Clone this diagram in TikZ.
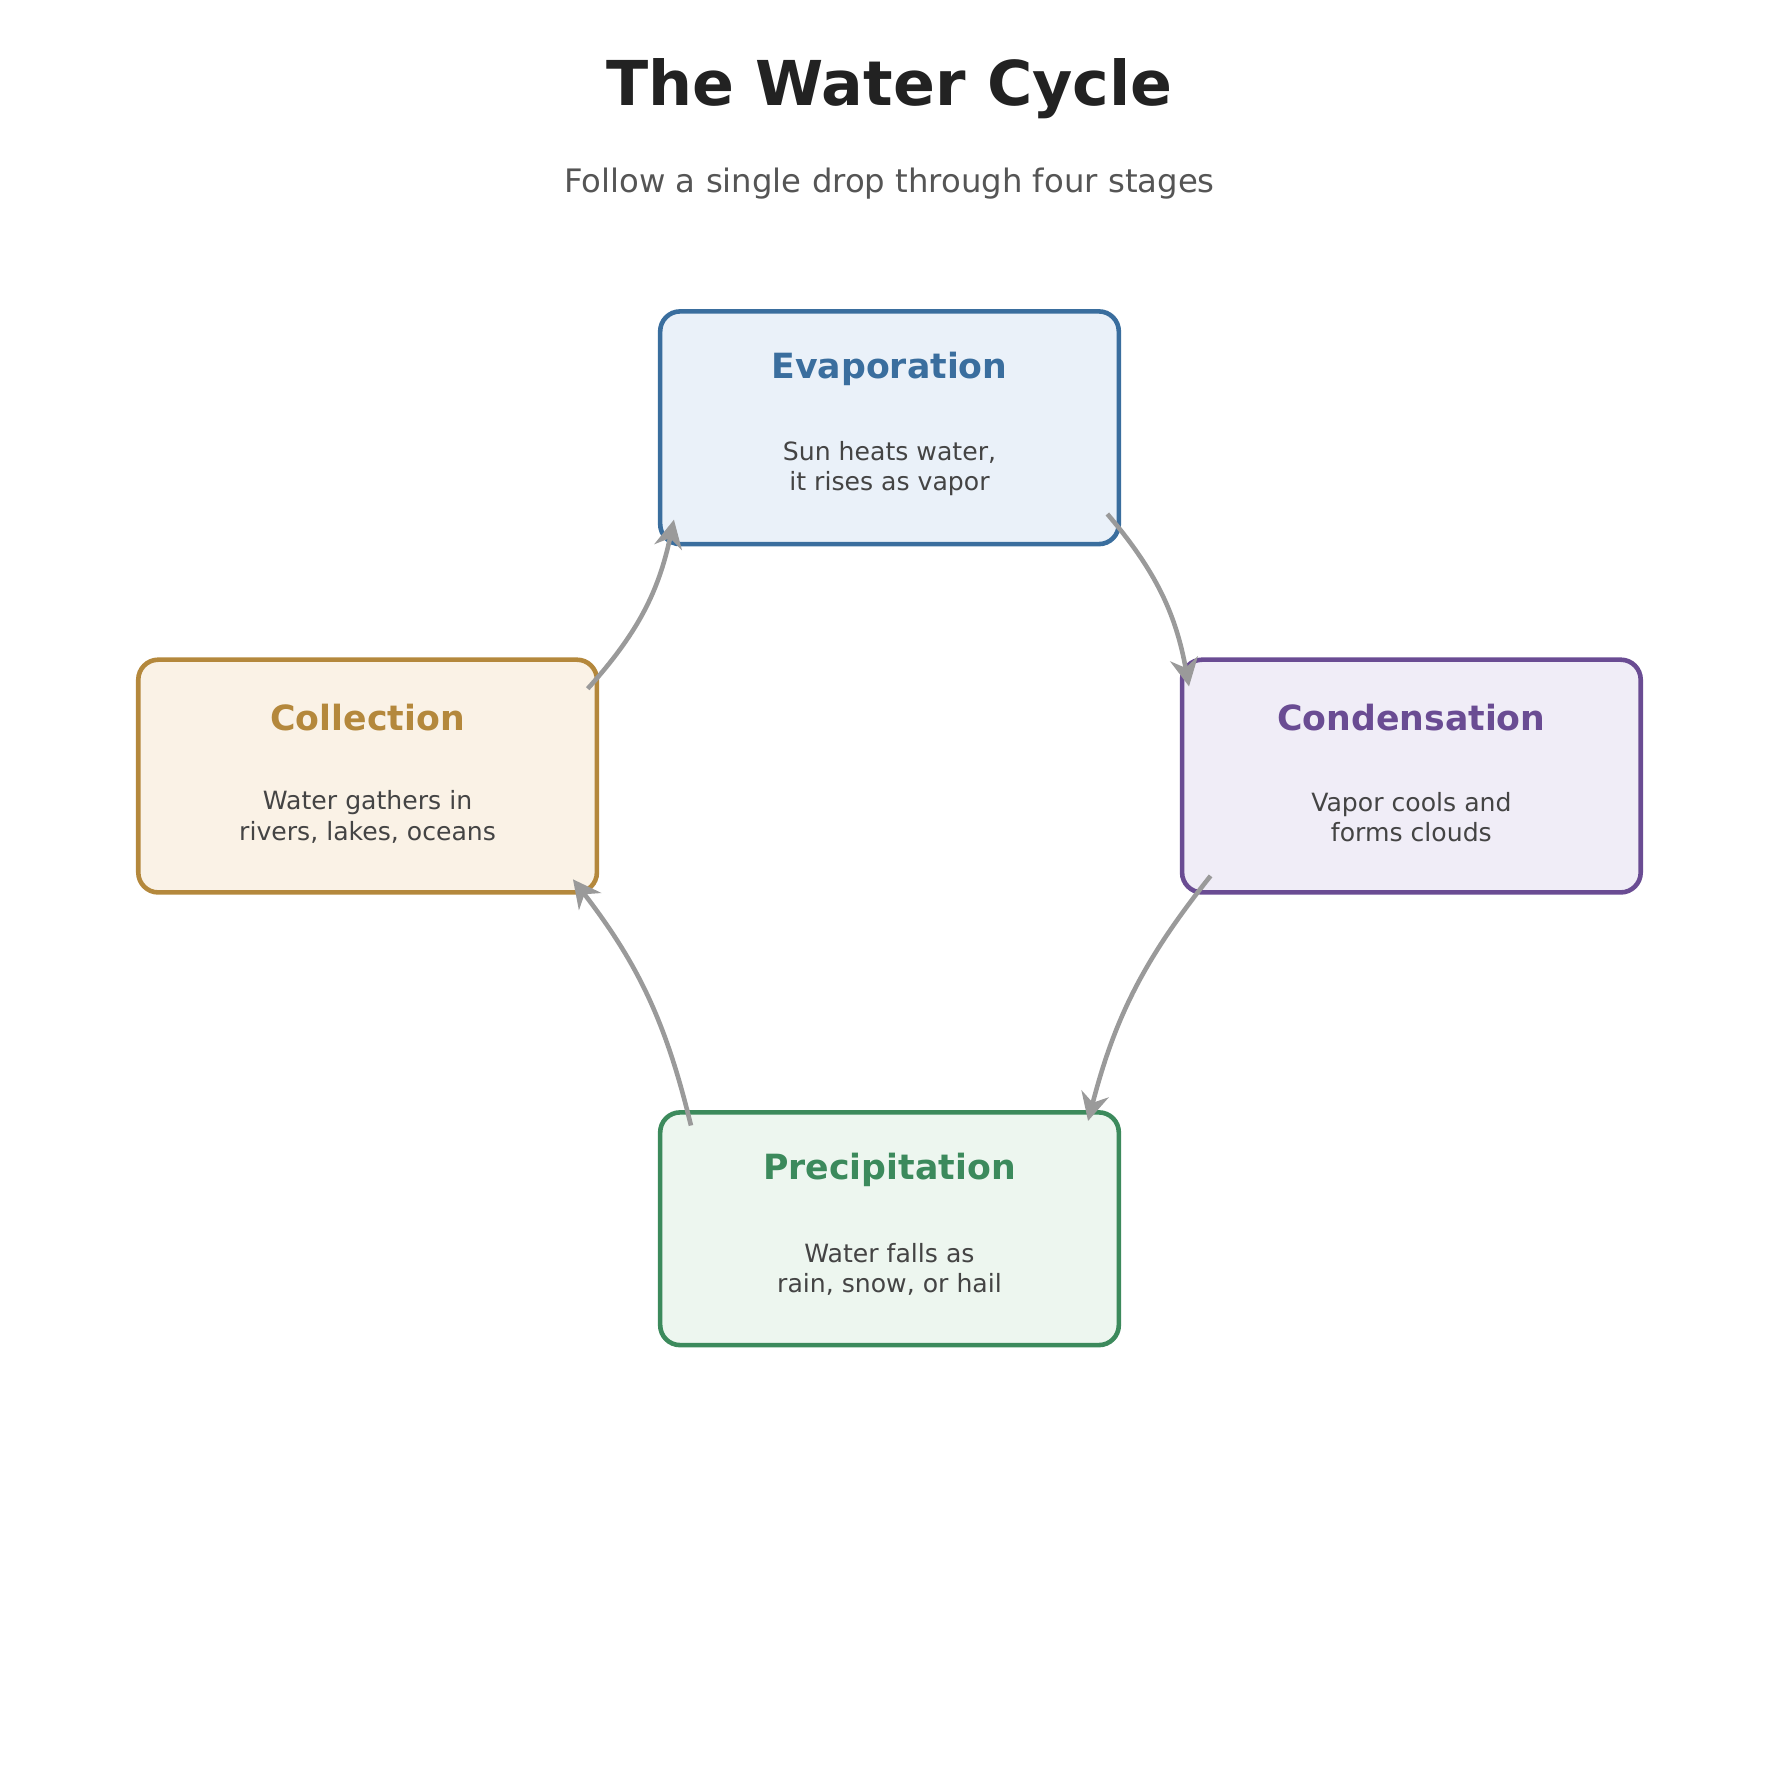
\documentclass[tikz,border=0pt]{standalone}
\usepackage{fontspec}
\setmainfont{DejaVu Sans}
\usetikzlibrary{arrows.meta}
\definecolor{ttl}{HTML}{222222}
\definecolor{sub}{HTML}{555555}
\definecolor{body}{HTML}{444444}
\definecolor{arr}{HTML}{9A9A9A}
\definecolor{bE}{HTML}{3A6E9E}\definecolor{fE}{HTML}{EAF1F9}
\definecolor{bC}{HTML}{6A4C93}\definecolor{fC}{HTML}{F0EDF7}
\definecolor{bP}{HTML}{3C8A5C}\definecolor{fP}{HTML}{EDF6EF}
\definecolor{bL}{HTML}{B4883C}\definecolor{fL}{HTML}{FAF2E6}
\begin{document}
\begin{tikzpicture}[x=0.01cm,y=-0.01cm,
  box/.style={draw=#1,line width=1.15pt,rounded corners=5pt,minimum width=4.04cm,minimum height=2.05cm},
  hd/.style={font=\fontsize{8.7}{10}\selectfont\bfseries},
  bd/.style={font=\fontsize{6.3}{7.6}\selectfont,text=body,align=center},
  flow/.style={draw=arr,line width=1.15pt,-{Stealth[length=7pt,width=7pt]}}]
\useasboundingbox (0,0) rectangle (1568,1568);
\node[font=\fontsize{15.5}{18}\selectfont\bfseries,text=ttl] (t) at (784,78) {The Water Cycle};
\node[font=\fontsize{8.1}{10}\selectfont,text=sub] (s) at (784,162) {Follow a single drop through four stages};
\node[box=bE,fill=fE] (E) at (784,377) {};
\node[box=bC,fill=fC] (C) at (1244,684) {};
\node[box=bP,fill=fP] (P) at (784,1083) {};
\node[box=bL,fill=fL] (L) at (324,684) {};
\node[hd,text=bE] (Et) at (784,325) {Evaporation};
\node[bd] (Eb) at (784,413) {Sun heats water,\\it rises as vapor};
\node[hd,text=bC] (Ct) at (1244,632) {Condensation};
\node[bd] (Cb) at (1244,720) {Vapor cools and\\forms clouds};
\node[hd,text=bP] (Pt) at (784,1031) {Precipitation};
\node[bd] (Pb) at (784,1119) {Water falls as\\rain, snow, or hail};
\node[hd,text=bL] (Lt) at (324,632) {Collection};
\node[bd] (Lb) at (324,720) {Water gathers in\\rivers, lakes, oceans};
\coordinate (e1) at (976,453); \coordinate (c1) at (1048,605);
\coordinate (c2) at (1067,772); \coordinate (p1) at (959,988);
\coordinate (p2) at (609,992); \coordinate (l1) at (505,775);
\coordinate (l2) at (518,607); \coordinate (e2) at (594,458);
\draw[flow] (e1) to[bend left=15] (c1);
\draw[flow] (c2) to[bend right=12] (p1);
\draw[flow] (p2) to[bend right=12] (l1);
\draw[flow] (l2) to[bend right=15] (e2);
\end{tikzpicture}
\end{document}
